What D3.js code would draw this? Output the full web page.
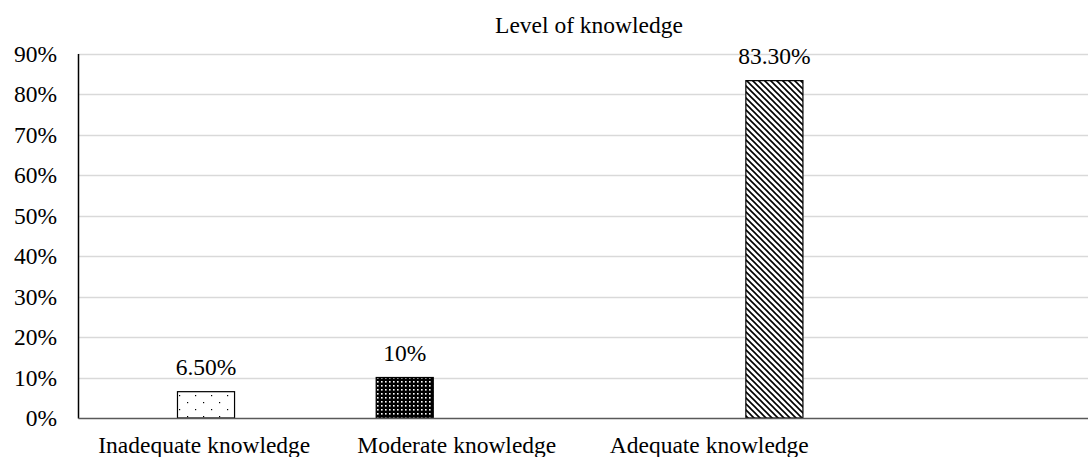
<!DOCTYPE html>
<html>
<head>
<meta charset="utf-8">
<script src="https://cdn.jsdelivr.net/npm/d3@7"></script>
<style>
  html, body { margin: 0; padding: 0; background: #fff; }
  svg { display: block; }
</style>
</head>
<body>
<div id="chart"></div>
<script>
// ---- data ----
const title = "Level of knowledge";
const categories = ["Inadequate knowledge", "Moderate knowledge", "Adequate knowledge", ""];
const values = [0.065, 0.10, 0.833];
const valueLabels = ["6.50%", "10%", "83.30%"];
const yTicks = [0, 0.1, 0.2, 0.3, 0.4, 0.5, 0.6, 0.7, 0.8, 0.9];

// ---- layout ----
const W = 1088, H = 457;
const margin = { top: 53.5, right: 0, bottom: 39, left: 78 };
const fontSize = 23.5;
const FONT = "'Liberation Serif', 'Times New Roman', Times, 'DejaVu Serif', serif";
const barShift = [0.007, -0.206, 0.258]; // offset of each bar within its band (fraction of band)
const barFrac = 0.226;

const svg = d3.select("#chart").append("svg").attr("width", W).attr("height", H)
  .style("font-family", FONT);

const x = d3.scaleBand().domain(categories).range([margin.left, W - margin.right]).padding(0);
const y = d3.scaleLinear().domain([0, 0.9]).range([H - margin.bottom, margin.top]);

// patterns
const defs = svg.append("defs");
const pDots = defs.append("pattern").attr("id", "pDots").attr("patternUnits", "userSpaceOnUse")
  .attr("width", 16).attr("height", 14);
pDots.append("rect").attr("width", 16).attr("height", 14).attr("fill", "#fff");
pDots.append("rect").attr("x", 3).attr("y", 3).attr("width", 1.2).attr("height", 1.2).attr("fill", "#000");
pDots.append("rect").attr("x", 11).attr("y", 10).attr("width", 1.2).attr("height", 1.2).attr("fill", "#000");

const pDark = defs.append("pattern").attr("id", "pDark").attr("patternUnits", "userSpaceOnUse")
  .attr("width", 4).attr("height", 4);
pDark.append("rect").attr("width", 4).attr("height", 4).attr("fill", "#000");
pDark.append("rect").attr("x", 1).attr("y", 1).attr("width", 1.6).attr("height", 1.6).attr("fill", "#fff");

const pDiag = defs.append("pattern").attr("id", "pDiag").attr("patternUnits", "userSpaceOnUse")
  .attr("width", 6).attr("height", 6);
pDiag.append("rect").attr("width", 6).attr("height", 6).attr("fill", "#fff");
pDiag.append("path").attr("d", "M-1,-1 L7,7 M-4,2 L1,7 M5,-1 L7,1").attr("stroke", "#000").attr("stroke-width", 1.6);

const fills = ["url(#pDots)", "url(#pDark)", "url(#pDiag)"];

// gridlines
svg.append("g").selectAll("line").data(yTicks.filter(d => d > 0)).join("line")
  .attr("x1", margin.left).attr("x2", W)
  .attr("y1", d => Math.round(y(d)) + 0.5).attr("y2", d => Math.round(y(d)) + 0.5)
  .attr("stroke", "#d9d9d9").attr("stroke-width", 1.5);

// y axis
const yAxis = d3.axisLeft(y).tickValues(yTicks).tickFormat(d3.format(".0%")).tickSize(0).tickPadding(21);
const gy = svg.append("g").attr("transform", `translate(${margin.left},0)`).call(yAxis);
gy.attr("font-family", null).attr("font-size", null);
gy.select(".domain").attr("stroke", "#000").attr("stroke-width", 1.5);
gy.selectAll("text").style("font-size", fontSize + "px").style("font-family", FONT).attr("fill", "#000");

// bars
const bw = x.bandwidth() * barFrac;
svg.append("g").selectAll("rect").data(values).join("rect")
  .attr("x", (d, i) => x(categories[i]) + x.bandwidth() / 2 + barShift[i] * x.bandwidth() - bw / 2)
  .attr("y", d => y(d))
  .attr("width", bw)
  .attr("height", d => y(0) - y(d))
  .attr("fill", (d, i) => fills[i])
  .attr("stroke", "#000").attr("stroke-width", 1.2);

// value labels
svg.append("g").selectAll("text").data(values).join("text")
  .attr("x", (d, i) => x(categories[i]) + x.bandwidth() / 2 + barShift[i] * x.bandwidth())
  .attr("y", d => y(d) - 17)
  .attr("text-anchor", "middle")
  .style("font-size", fontSize + "px").style("font-family", FONT)
  .text((d, i) => valueLabels[i]);

// x axis
const xAxis = d3.axisBottom(x).tickSize(0).tickPadding(18);
const gx = svg.append("g").attr("transform", `translate(0,${y(0)})`).call(xAxis);
gx.attr("font-family", null).attr("font-size", null);
gx.select(".domain").attr("stroke", "#595959").attr("stroke-width", 1.5);
gx.selectAll("text").style("font-size", fontSize + "px").style("font-family", FONT).attr("fill", "#000");

// title
svg.append("text")
  .attr("x", (margin.left + W) / 2 + 6)
  .attr("y", 33)
  .attr("text-anchor", "middle")
  .style("font-size", fontSize + "px").style("font-family", FONT)
  .text(title);
</script>
</body>
</html>
